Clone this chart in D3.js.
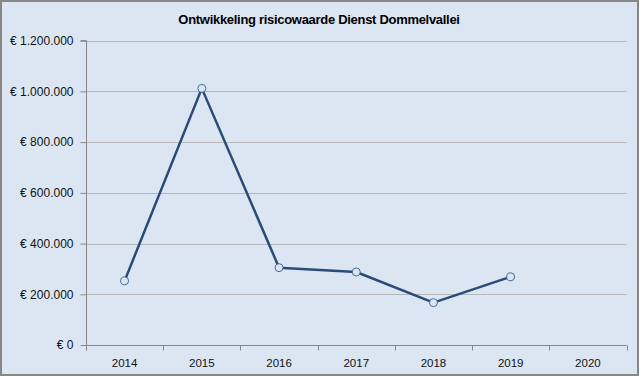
<!DOCTYPE html>
<html><head><meta charset="utf-8">
<script src="https://cdn.jsdelivr.net/npm/d3@7"></script>
<style>body{margin:0;background:#fff}svg{display:block}</style>
</head><body>
<script>
const categories = ["2014","2015","2016","2017","2018","2019","2020"];
const values = [253000, 1012000, 305000, 288000, 167000, 269000, null];
const yTicks = [0, 200000, 400000, 600000, 800000, 1000000, 1200000];
const title = "Ontwikkeling risicowaarde Dienst Dommelvallei";

const W = 640, H = 377;
const m = {left: 86, right: 13.5, top: 40.7, bottom: 32};
const svg = d3.select("body").append("svg").attr("width", W).attr("height", H);
svg.append("rect").attr("x",1).attr("y",1).attr("width",W-3).attr("height",H-3)
  .attr("fill","#dce6f2").attr("stroke","#878787").attr("stroke-width",2);

const x = d3.scaleBand().domain(categories).range([m.left, W - m.right]);
const y = d3.scaleLinear().domain([0, 1200000]).range([H - m.bottom, m.top]);
const font = "'Liberation Sans', Arial, sans-serif";
const fmt = v => "€ " + (v === 0 ? "0" : d3.format(",")(v).replace(/,/g, "."));

// gridlines
svg.append("g").selectAll("line").data(yTicks.filter(d=>d>0)).join("line")
  .attr("x1", m.left).attr("x2", W - m.right)
  .attr("y1", d => Math.round(y(d))+0.5).attr("y2", d => Math.round(y(d))+0.5)
  .attr("stroke", "#b7b7b7").attr("stroke-width", 1);

// y axis
const ya = svg.append("g").attr("transform", `translate(${m.left+0.5},0)`)
  .call(d3.axisLeft(y).tickValues(yTicks).tickFormat(fmt).tickSize(6).tickPadding(7));
ya.select(".domain").attr("stroke", "#868686").attr("d", `M-6,${y(1200000)}H0V${y(0)}`);
ya.selectAll(".tick line").attr("stroke", "#868686");
ya.selectAll("text").attr("font-family", font).attr("font-size", 12).attr("fill", "#111");

// x axis
const xa = svg.append("g").attr("transform", `translate(0,${Math.round(y(0))+0.5})`);
xa.append("line").attr("x1", m.left).attr("x2", W - m.right).attr("stroke", "#868686");
const bounds = categories.map(c => x(c)).concat([W - m.right]);
xa.selectAll(".tk").data(bounds).join("line").attr("class","tk")
  .attr("x1", d => Math.round(d)+0.5).attr("x2", d => Math.round(d)+0.5).attr("y1", 0).attr("y2", 5)
  .attr("stroke", "#868686");
xa.selectAll("text").data(categories).join("text")
  .attr("x", d => x(d) + x.bandwidth()/2).attr("y", 21)
  .attr("text-anchor", "middle").attr("font-family", font).attr("font-size", 11.5).attr("fill", "#111")
  .text(d => d);

// title
svg.append("text").attr("x", 319).attr("y", 24).attr("text-anchor", "middle")
  .attr("font-family", font).attr("font-size", 13).attr("font-weight", "bold")
  .attr("letter-spacing", -0.3).attr("fill", "#000").text(title);

// line
const pts = categories.map((c, i) => ({c, v: values[i]})).filter(d => d.v != null);
const line = d3.line().x(d => x(d.c) + x.bandwidth()/2).y(d => y(d.v));
svg.append("path").datum(pts).attr("d", line).attr("fill", "none")
  .attr("stroke", "#2a4b78").attr("stroke-width", 2.5).attr("stroke-linejoin", "round");
svg.append("g").selectAll("circle").data(pts).join("circle")
  .attr("cx", d => x(d.c) + x.bandwidth()/2).attr("cy", d => y(d.v)).attr("r", 4)
  .attr("fill", "#dce6f2").attr("stroke", "#4a6a9c").attr("stroke-width", 1);
</script>
</body></html>
